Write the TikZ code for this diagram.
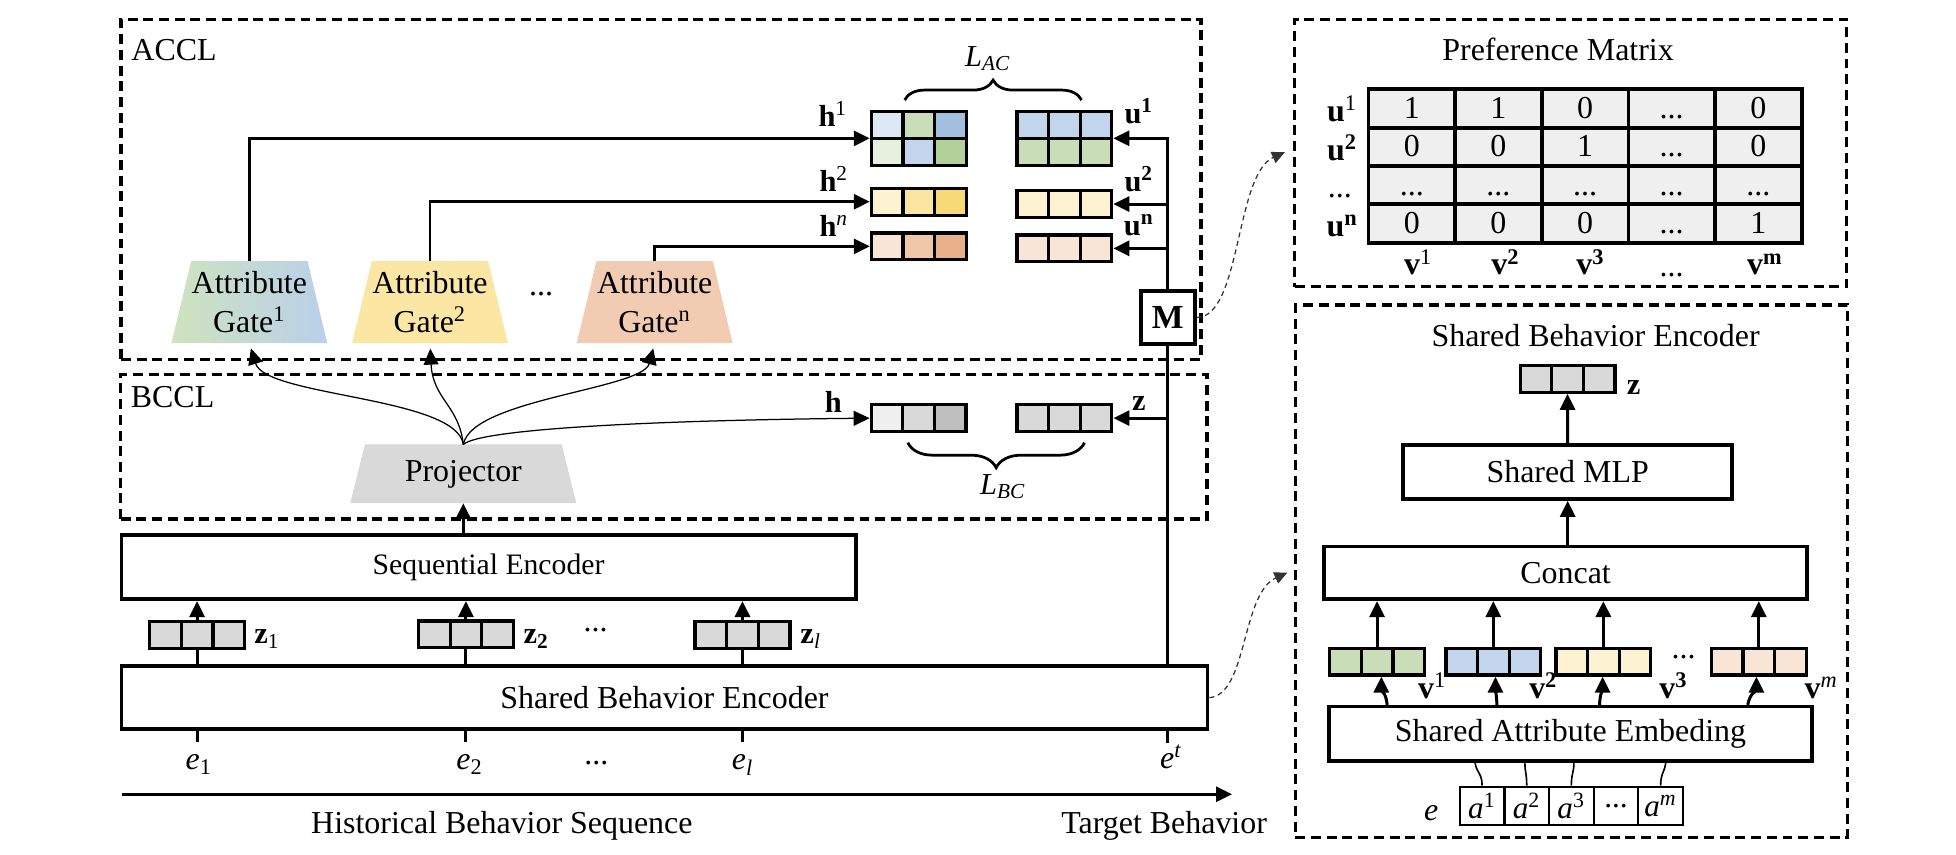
\documentclass[tikz,border=0pt]{standalone}
\usepackage{fontspec}
\setmainfont{Liberation Serif}
\usetikzlibrary{arrows.meta,decorations.pathreplacing,fit,backgrounds}

\definecolor{cellgray}{HTML}{D9D9D9}
\definecolor{pmfill}{HTML}{EFEFEF}
\definecolor{gOneL}{HTML}{CFE3BE}
\definecolor{gOneR}{HTML}{B9D0EA}
\definecolor{gTwo}{HTML}{FBE6A4}
\definecolor{gN}{HTML}{F2CCB2}
\definecolor{projc}{HTML}{D9D9D9}
\definecolor{bA}{HTML}{DDE8F5}
\definecolor{bB}{HTML}{C3D5EC}
\definecolor{bC}{HTML}{A3BFE0}
\definecolor{grA}{HTML}{E6F0DC}
\definecolor{grB}{HTML}{C9DDB8}
\definecolor{grC}{HTML}{B2D09A}
\definecolor{yA}{HTML}{FDF3D3}
\definecolor{yB}{HTML}{FBE5A0}
\definecolor{yC}{HTML}{F8D977}
\definecolor{pA}{HTML}{F9E5D6}
\definecolor{pB}{HTML}{F0C8A8}
\definecolor{pC}{HTML}{E8B088}
\definecolor{hA}{HTML}{F0F0F0}
\definecolor{hC}{HTML}{BFBFBF}

\newcommand{\mainfs}{\fontsize{12.8}{15.4}\selectfont}
\newcommand{\seqfs}{\fontsize{11.9}{14}\selectfont}
\newcommand{\lblfs}{\fontsize{12.2}{14}\selectfont}
\newcommand{\dd}{...}

% 3-cell vector: name, cx, cy, c1, c2, c3
\newcommand{\vecthree}[6]{%
  \fill[#4] (#2-38,#3-10.75) rectangle (#2-12.667,#3+10.75);
  \fill[#5] (#2-12.667,#3-10.75) rectangle (#2+12.667,#3+10.75);
  \fill[#6] (#2+12.667,#3-10.75) rectangle (#2+38,#3+10.75);
  \draw[cellline] (#2-12.667,#3-10.75) -- (#2-12.667,#3+10.75)
                  (#2+12.667,#3-10.75) -- (#2+12.667,#3+10.75);
  \node[vecnode] (#1) at (#2,#3) {};
}
% 2x3 matrix: name, cx, cy, six colours
\newcommand{\mattwo}[9]{%
  \fill[#4] (#2-38,#3-21.5) rectangle (#2-12.667,#3);
  \fill[#5] (#2-12.667,#3-21.5) rectangle (#2+12.667,#3);
  \fill[#6] (#2+12.667,#3-21.5) rectangle (#2+38,#3);
  \fill[#7] (#2-38,#3) rectangle (#2-12.667,#3+21.5);
  \fill[#8] (#2-12.667,#3) rectangle (#2+12.667,#3+21.5);
  \fill[#9] (#2+12.667,#3) rectangle (#2+38,#3+21.5);
  \draw[cellline] (#2-12.667,#3-21.5) -- (#2-12.667,#3+21.5)
                  (#2+12.667,#3-21.5) -- (#2+12.667,#3+21.5)
                  (#2-38,#3) -- (#2+38,#3);
  \node[matnode] (#1) at (#2,#3) {};
}

\begin{document}
\begin{tikzpicture}[x=0.5pt, y=-0.5pt,
  dframe/.style={draw, line width=1.3pt, dash pattern=on 4pt off 2.3pt, inner sep=0},
  bx/.style={draw, line width=1.45pt, inner sep=0, font=\mainfs},
  vecnode/.style={draw, line width=1.3pt, minimum width=38pt, minimum height=10.75pt, inner sep=0},
  matnode/.style={vecnode, minimum height=21.5pt},
  cellline/.style={line width=1.3pt},
  pmline/.style={line width=1.5pt, line cap=rect},
  ln/.style={line width=1.2pt},
  thinln/.style={line width=0.65pt},
  arr/.style={line width=1.2pt, -{Triangle[length=6.4pt,width=6pt]}},
  thinarr/.style={line width=0.5pt, -{Triangle[length=6.4pt,width=6pt]}},
  dcon/.style={line width=0.5pt, draw=black!80, dash pattern=on 2pt off 1.5pt, -{Triangle[length=5.2pt,width=4.8pt]}},
  txt/.style={font=\mainfs, inner sep=0},
  lbl/.style={font=\lblfs, inner sep=0, anchor=base},
  blbl/.style={font=\mainfs, inner sep=0, anchor=base},
  gatenode/.style={font=\mainfs, align=center, inner sep=0, minimum width=46.25pt, minimum height=32.5pt},
  bracedeco/.style={decorate, decoration={brace, amplitude=#1}, line width=1.1pt},
]
\useasboundingbox (0,0) rectangle (1568,685);
\begin{scope}[on background layer]
  \fill[white] (0,0) rectangle (1568,685);
\end{scope}

% ---------- frames ----------
\node[dframe, fit={(97,15.5) (962.8,288)}] (accl) {};
\node[dframe, fit={(96.8,300) (967.5,416)}] (bccl) {};
\node[dframe, fit={(1038,15.5) (1480.5,229.8)}] (pref) {};
\node[dframe, fit={(1038.3,244.5) (1481,671.2)}] (sbeframe) {};
\node[txt, anchor=west] (acclL) at (105,40) {ACCL};
\node[txt, anchor=west] (bcclL) at (104.5,318) {BCCL};

% ---------- ACCL ----------
\node[gatenode] (gate1) at (199.9,242.2) {Attribute\\Gate\textsuperscript{1}};
\node[gatenode] (gate2) at (344.7,242.2) {Attribute\\Gate\textsuperscript{2}};
\node[gatenode] (gaten) at (524.8,242.2) {Attribute\\Gate\textsuperscript{n}};
\node[txt] (gdots) at (433.7,236) {...};

\mattwo{h1m}{736.5}{110.9}{bA}{grB}{bC}{grA}{bB}{grC}
\vecthree{h2v}{736.5}{161.7}{yA}{yB}{yC}
\vecthree{hnv}{736.5}{197.5}{pA}{pB}{pC}
\mattwo{u1m}{853.2}{110.9}{bB}{bB}{bB}{grB}{grB}{grB}
\vecthree{u2v}{853.2}{163.6}{yA}{yA}{yA}
\vecthree{unv}{853.2}{199.1}{pA}{pA}{pA}

\node[lbl] (h1L) at (667.7,101.5) {\textbf{h}\textsuperscript{1}};
\node[lbl] (h2L) at (668.5,153.7) {\textbf{h}\textsuperscript{2}};
\node[lbl] (hnL) at (668.5,189.7) {\textbf{h}\textsuperscript{\textit{n}}};
\node[lbl] (u1L) at (913,98.9) {\textbf{u\textsuperscript{1}}};
\node[lbl] (u2L) at (913,153.7) {\textbf{u\textsuperscript{2}}};
\node[lbl] (unL) at (913,188.4) {\textbf{u\textsuperscript{n}}};

\draw[bracedeco=8pt] (725.2,80.2) -- (867,80.2);
\node[lbl, anchor=center] (lac) at (792,47) {\textit{L}\textsubscript{\textit{AC}}};

\node[bx, font=\fontsize{13.5}{15}\selectfont\bfseries, minimum width=21.6pt, minimum height=21.25pt] (M) at (936.2,254.5) {M};

\draw[arr] (gate1.north) |- (h1m.west);
\draw[arr] (gate2.north) |- (h2v.west);
\draw[arr] (gaten.north) |- (hnv.west);
\draw[arr] (M.north) |- (u1m.east);
\draw[arr] (M.north |- u2v.east) -- (u2v.east);
\draw[arr] (M.north |- unv.east) -- (unv.east);

% ---------- BCCL ----------
\node[gatenode, minimum width=78.5pt, minimum height=23.15pt] (proj) at (371.4,379.85) {Projector};
\vecthree{hv}{736.4}{335.2}{hA}{cellgray}{hC}
\vecthree{zv}{853.3}{335.2}{cellgray}{cellgray}{cellgray}
\node[lbl] (hL) at (668,330.8) {\textbf{h}};
\node[lbl] (zL) at (913,329.2) {\textbf{z}};
\draw[bracedeco=10pt] (869.4,354.9) -- (727.7,354.9);
\node[lbl, anchor=center] (lbc) at (804,390) {\textit{L}\textsubscript{\textit{BC}}};

\draw[thinarr, shorten >=2.2pt] (proj.north) .. controls (366,318) and (213,318) .. (gate1.south);
\draw[thinarr, shorten >=2.2pt] (proj.north) .. controls (368,325) and (347,320) .. (gate2.south);
\draw[thinarr, shorten >=2.2pt] (proj.north) .. controls (378,320) and (515,312) .. (gaten.south);
\draw[thinarr] (proj.north) .. controls (385,344) and (520,337) .. (hv.west);

% ---------- encoders ----------
\node[bx, font=\seqfs, minimum width=294.35pt, minimum height=25.75pt] (seq) at (391.65,454.65) {Sequential Encoder};
\node[bx, minimum width=435.4pt, minimum height=25.35pt] (sbe) at (532.7,559.25) {Shared Behavior Encoder};
\draw[arr] (proj.south |- seq.north) -- (proj.south);

\vecthree{z1}{158}{509}{cellgray}{cellgray}{cellgray}
\vecthree{z2}{373.5}{508.5}{cellgray}{cellgray}{cellgray}
\vecthree{zl}{595.2}{509}{cellgray}{cellgray}{cellgray}
\node[lbl, anchor=base west] (z1L) at (203.6,516.2) {\textbf{z}\textsubscript{1}};
\node[lbl, anchor=base west] (z2L) at (419.4,516.2) {\textbf{z\textsubscript{2}}};
\node[lbl, anchor=base west] (zlL) at (641.3,516.2) {\textbf{z}\textsubscript{\textit{l}}};
\node[txt] (zdots) at (477.4,505) {...};

\foreach \zz in {z1,z2,zl}{
  \draw[arr] (\zz.north) -- (\zz.north |- seq.south);
  \draw[ln] (\zz.south |- sbe.north) -- (\zz.south);
}
\draw[ln] (M.south) -- (M.south |- sbe.north);
\draw[arr] (M.south |- zv.east) -- (zv.east);

% e labels
\node[blbl] (e1) at (159.5,617.2) {\textit{e}\textsubscript{1}};
\node[blbl] (e2) at (376.6,617.2) {\textit{e}\textsubscript{2}};
\node[blbl] (el) at (595.4,617.2) {\textit{e}\textsubscript{\textit{l}}};
\node[txt] (edots) at (478,612) {...};
\node[blbl] (et) at (938.9,615.9) {\textit{e}\textsuperscript{\textit{t}}};
\coordinate (s1) at (158,594.5);
\coordinate (s2) at (373.5,594.5);
\coordinate (s3) at (595.2,594.5);
\coordinate (s4) at (936.2,595.3);
\foreach \ss in {s1,s2,s3,s4}{
  \draw[ln] (\ss |- sbe.south) -- (\ss);
}

% timeline
\coordinate (tl0) at (98,636.7);
\coordinate (tl1) at (987.6,636.7);
\draw[arr] (tl0) -- (tl1);
\node[blbl] (hist) at (402.3,668) {Historical Behavior Sequence};
\node[blbl] (target) at (933.2,668) {Target Behavior};

% ---------- Preference matrix ----------
\node[txt] (prefT) at (1249,39.6) {Preference Matrix};
\fill[pmfill] (1097,71.6) rectangle (1444.25,194.5);
\foreach \k in {0,...,4} \draw[pmline] (1097,{71.6+30.725*\k}) -- (1444.25,{71.6+30.725*\k});
\foreach \k in {0,...,5} \draw[pmline] ({1097+69.45*\k},71.6) -- ({1097+69.45*\k},194.5);
\node[fit={(1097,71.6) (1444.25,194.5)}, inner sep=0] (pm) {};
\foreach \vals [count=\i] in {{1,1,0,\dd,0},{0,0,1,\dd,0},{\dd,\dd,\dd,\dd,\dd},{0,0,0,\dd,1}}{
  \foreach \v [count=\j] in \vals {
    \node[blbl] (m-\i-\j) at ({1097+69.45*(\j-0.5)},{71.6+30.725*(\i-1)+23.3}) {\v};
  }
}
\node[blbl] (pu1) at (1076,97.5) {\textbf{u}\textsuperscript{1}};
\node[blbl] (pu2) at (1076,128.3) {\textbf{u\textsuperscript{2}}};
\node[blbl] (pud) at (1074,158.5) {...};
\node[blbl] (pun) at (1076,189.7) {\textbf{u\textsuperscript{n}}};
\node[blbl] (pv1) at (1137,220.4) {\textbf{v}\textsuperscript{1}};
\node[blbl] (pv2) at (1207,220.4) {\textbf{v\textsuperscript{2}}};
\node[blbl] (pv3) at (1275,220.4) {\textbf{v\textsuperscript{3}}};
\node[blbl] (pvd) at (1340,222) {...};
\node[blbl] (pvm) at (1415,220.4) {\textbf{v\textsuperscript{m}}};

\coordinate (prefin) at (1030,122);
\draw[dcon] (M.east) .. controls (995,254.5) and (990,140) .. (prefin);

% ---------- Shared Behavior Encoder (detail) ----------
\node[txt] (sbeT) at (1279.1,269.3) {Shared Behavior Encoder};
\vecthree{zr}{1256.6}{303.7}{cellgray}{cellgray}{cellgray}
\node[lbl, anchor=base west] (zrL) at (1303.7,316.6) {\textbf{z}};
\node[bx, minimum width=131.9pt, minimum height=21.65pt] (mlp) at (1256.7,378.35) {Shared MLP};
\node[bx, minimum width=193.75pt, minimum height=21.1pt] (concat) at (1255,459.3) {Concat};
\node[bx, minimum width=193.6pt, minimum height=21.75pt] (sae) at (1258.9,588.25) {Shared Attribute Embeding};
\draw[arr] (mlp.north) -- (zr.south);
\draw[arr] (mlp.south |- concat.north) -- (mlp.south);

\vecthree{v1}{1103.9}{530.4}{grB}{grB}{grB}
\vecthree{v2}{1197.1}{530.4}{bB}{bB}{bB}
\vecthree{v3}{1285.3}{530.4}{yA}{yA}{yA}
\vecthree{vm}{1409.9}{530.4}{pA}{pA}{pA}
\node[txt] (vdots) at (1349.7,526.4) {...};
\node[blbl, anchor=base west] (v1L) at (1136.5,559.8) {\textbf{v}\textsuperscript{1}};
\node[blbl, anchor=base west] (v2L) at (1225.5,559.8) {\textbf{v\textsuperscript{2}}};
\node[blbl, anchor=base west] (v3L) at (1329.8,559.8) {\textbf{v\textsuperscript{3}}};
\node[blbl, anchor=base west] (vmL) at (1446.3,559.8) {\textbf{v}\textsuperscript{\textit{m}}};
\foreach \vv in {v1,v2,v3,vm}{
  \draw[arr] (\vv.north) -- (\vv.north |- concat.south);
}
\draw[arr] ([xshift=-73.45pt]sae.north) .. controls +(-1,-10) and +(0,11) .. ([xshift=1.7pt]v1.south);
\draw[arr] ([xshift=-29.45pt]sae.north) .. controls +(-0.5,-10) and +(0,11) .. ([xshift=0.85pt]v2.south);
\draw[arr] ([xshift=11.65pt]sae.north) .. controls +(0.5,-10) and +(0,11) .. ([xshift=-0.3pt]v3.south);
\draw[arr] ([xshift=71.05pt]sae.north) .. controls +(2,-10) and +(0,11) .. ([xshift=-0.95pt]vm.south);

% attribute cells
\foreach \t [count=\k] in {\textit{a}\textsuperscript{1},\textit{a}\textsuperscript{2},\textit{a}\textsuperscript{3},\dd,\textit{a}\textsuperscript{\textit{m}}}{
  \node[draw, line width=0.9pt, minimum width=17.9pt, minimum height=15.35pt, inner sep=0, font=\fontsize{12.5}{14}\selectfont] (ac\k) at ({1170.2+35.78*(\k-0.5)},645.95) {\t};
}
\node[blbl] (eR) at (1147.2,657.9) {\textit{e}};
\draw[thinln] (ac1.north) .. controls +(0,-10) and +(1,8) .. ([xshift=-38.2pt]sae.south);
\draw[thinln] (ac2.north) .. controls +(0,-10) and +(0,8) .. ([xshift=-18.25pt]sae.south);
\draw[thinln] (ac3.north) .. controls +(0,-10) and +(0,8) .. ([xshift=1.4pt]sae.south);
\draw[thinln] (ac5.north) .. controls +(0,-10) and +(-1,8) .. ([xshift=38.2pt]sae.south);

\coordinate (sbein) at (1032,459);
\draw[dcon] (sbe.east) .. controls (1000,557) and (995,476) .. (sbein);

% ---------- trapezium fills ----------
\begin{scope}[on background layer]
  \shade[left color=gOneL, right color=gOneR] (gate1.north west) -- (gate1.north east) -- ([xshift=7.9pt]gate1.south east) -- ([xshift=-7.9pt]gate1.south west) -- cycle;
  \fill[gTwo] (gate2.north west) -- (gate2.north east) -- ([xshift=7.9pt]gate2.south east) -- ([xshift=-7.9pt]gate2.south west) -- cycle;
  \fill[gN] (gaten.north west) -- (gaten.north east) -- ([xshift=7.9pt]gaten.south east) -- ([xshift=-7.9pt]gaten.south west) -- cycle;
  \fill[projc] (proj.north west) -- (proj.north east) -- ([xshift=5.85pt]proj.south east) -- ([xshift=-5.85pt]proj.south west) -- cycle;
\end{scope}
\end{tikzpicture}
\end{document}
